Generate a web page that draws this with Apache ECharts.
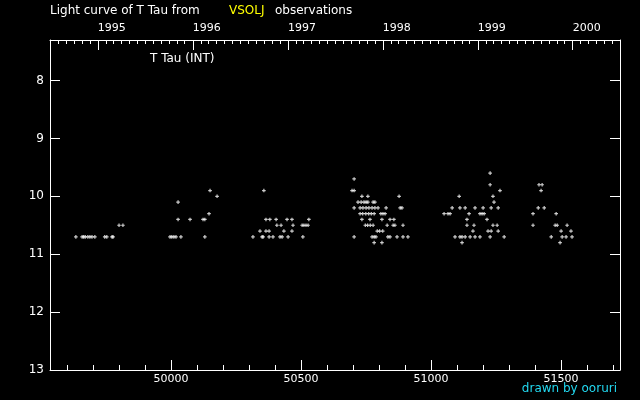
<!DOCTYPE html>
<html>
<head>
<meta charset="utf-8">
<script src="https://cdn.jsdelivr.net/npm/echarts@6/dist/echarts.min.js"></script>
<style>
  html, body { margin: 0; padding: 0; background: #000; }
  #chart { width: 640px; height: 400px; }
</style>
</head>
<body>
<div id="chart"></div>
<script>
// JD - 2400000 and visual magnitude, one array per observing season
const season1 = [
  [49634, 10.7], [49658, 10.7], [49664, 10.7], [49670, 10.7], [49680, 10.7], [49688, 10.7],
  [49696, 10.7], [49707, 10.7], [49745, 10.7], [49753, 10.7], [49773, 10.7], [49777, 10.7],
  [49800, 10.5], [49815, 10.5]
];
const season2 = [
  [49996, 10.7], [50003, 10.7], [50011, 10.7], [50019, 10.7], [50038, 10.7], [50130, 10.7],
  [50027, 10.4], [50073, 10.4], [50123, 10.4], [50130, 10.4], [50146, 10.3], [50027, 10.1],
  [50177, 10.0], [50150, 9.9]
];
const season3 = [
  [50357, 9.9],
  [50365, 10.4], [50380, 10.4], [50404, 10.4], [50446, 10.4], [50465, 10.4], [50530, 10.4],
  [50407, 10.5], [50423, 10.5], [50469, 10.5], [50504, 10.5], [50511, 10.5], [50519, 10.5], [50527, 10.5],
  [50342, 10.6], [50365, 10.6], [50377, 10.6], [50434, 10.6], [50465, 10.6],
  [50315, 10.7], [50350, 10.7], [50354, 10.7], [50377, 10.7], [50392, 10.7], [50419, 10.7],
  [50427, 10.7], [50450, 10.7], [50507, 10.7]
];
const season4 = [
  [50704, 9.7], [50696, 9.9], [50704, 9.9],
  [50734, 10.0], [50757, 10.0], [50877, 10.0],
  [50719, 10.1], [50731, 10.1], [50742, 10.1], [50750, 10.1], [50757, 10.1], [50777, 10.1], [50784, 10.1],
  [50704, 10.2], [50727, 10.2], [50738, 10.2], [50750, 10.2], [50761, 10.2], [50773, 10.2], [50784, 10.2],
  [50796, 10.2], [50827, 10.2], [50881, 10.2], [50888, 10.2],
  [50727, 10.3], [50737, 10.3], [50749, 10.3], [50760, 10.3], [50770, 10.3], [50781, 10.3],
  [50807, 10.3], [50815, 10.3], [50823, 10.3],
  [50734, 10.4], [50765, 10.4], [50811, 10.4], [50842, 10.4], [50857, 10.4],
  [50747, 10.5], [50756, 10.5], [50766, 10.5], [50777, 10.5], [50831, 10.5], [50854, 10.5],
  [50861, 10.5], [50892, 10.5],
  [50793, 10.6], [50802, 10.6], [50814, 10.6],
  [50704, 10.7], [50773, 10.7], [50781, 10.7], [50788, 10.7], [50834, 10.7], [50842, 10.7],
  [50869, 10.7], [50892, 10.7], [50911, 10.7],
  [50781, 10.8], [50811, 10.8]
];
const season5 = [
  [51227, 9.6], [51227, 9.8], [51265, 9.9], [51108, 10.0], [51238, 10.0], [51242, 10.1],
  [51081, 10.2], [51111, 10.2], [51131, 10.2], [51169, 10.2], [51200, 10.2], [51231, 10.2], [51258, 10.2],
  [51050, 10.3], [51065, 10.3], [51073, 10.3], [51146, 10.3], [51188, 10.3], [51196, 10.3], [51204, 10.3],
  [51138, 10.4], [51215, 10.4],
  [51138, 10.5], [51165, 10.5], [51238, 10.5], [51254, 10.5],
  [51161, 10.6], [51219, 10.6], [51231, 10.6], [51258, 10.6],
  [51092, 10.7], [51111, 10.7], [51119, 10.7], [51131, 10.7], [51150, 10.7], [51169, 10.7],
  [51188, 10.7], [51227, 10.7], [51281, 10.7],
  [51119, 10.8]
];
const season6 = [
  [51415, 9.8], [51427, 9.8], [51423, 9.9], [51412, 10.2], [51435, 10.2],
  [51392, 10.3], [51481, 10.3],
  [51392, 10.5], [51477, 10.5], [51485, 10.5], [51523, 10.5],
  [51500, 10.6], [51538, 10.6],
  [51462, 10.7], [51504, 10.7], [51519, 10.7], [51542, 10.7],
  [51496, 10.8]
];

// axis setup
const jdMin = 49534.5;   // 1994 Jul 1
const jdMax = 51726.5;   // 2000 Jul 1
const jdTicks = [50000, 50500, 51000, 51500];
const magTicks = [8, 9, 10, 11, 12, 13];
const yearLabels = [1995, 1996, 1997, 1998, 1999, 2000];

// JD-2400000 of the first day of a month
function jdOf(y, m) {
  return Date.UTC(y, m, 1) / 86400000 + 40587.5;
}

const yearJD = yearLabels.map(y => jdOf(y, 0));
const monthJD = [];
for (let y = 1994; y <= 2000; y++) {
  for (let m = 0; m < 12; m++) {
    const v = jdOf(y, m);
    if (v > jdMin && v < jdMax) monthJD.push(v);
  }
}
const minorJD = [];
for (let v = 49600; v <= 51700; v += 100) minorJD.push(v);

const font = 'DejaVu Sans';
const white = '#ffffff';

const chart = echarts.init(document.getElementById('chart'));

const txt = (text, color, pos) => Object.assign({
  text: text,
  padding: 0,
  textStyle: {color: color, fontSize: 12, fontWeight: 'normal', fontFamily: font}
}, pos);

chart.setOption({
  backgroundColor: '#000000',
  animation: false,
  title: [
    txt('Light curve of T Tau from', white, {left: 50, top: 5}),
    txt('VSOLJ', '#ffff00', {left: 229, top: 5}),
    txt('observations', white, {left: 275, top: 5}),
    txt('T Tau (INT)', white, {left: 150, top: 53}),
    txt('drawn by ooruri', '#22d8f0', {right: 23, top: 383})
  ],
  grid: {left: 50, right: 20, top: 40, bottom: 30},
  xAxis: [
    {
      type: 'value', position: 'bottom', min: jdMin, max: jdMax,
      splitLine: {show: false},
      axisLine: {lineStyle: {color: white, width: 1}},
      axisTick: {inside: true, length: 10, customValues: jdTicks, lineStyle: {color: white}},
      axisLabel: {
        customValues: jdTicks, color: white, fontSize: 11, fontFamily: font, margin: 4,
        formatter: v => String(v)
      }
    },
    {
      type: 'value', position: 'bottom', min: jdMin, max: jdMax,
      splitLine: {show: false},
      axisLine: {show: false},
      axisTick: {inside: true, length: 5, customValues: minorJD, lineStyle: {color: white}},
      axisLabel: {show: false}
    },
    {
      type: 'value', position: 'top', min: jdMin, max: jdMax,
      splitLine: {show: false},
      axisLine: {lineStyle: {color: white, width: 1}},
      axisTick: {inside: true, length: 10, customValues: yearJD, lineStyle: {color: white}},
      axisLabel: {
        customValues: yearJD, color: white, fontSize: 11, fontFamily: font, margin: 6, align: 'left',
        formatter: v => String(yearLabels[yearJD.indexOf(v)])
      }
    },
    {
      type: 'value', position: 'top', min: jdMin, max: jdMax,
      splitLine: {show: false},
      axisLine: {show: false},
      axisTick: {inside: true, length: 4, customValues: monthJD, lineStyle: {color: white}},
      axisLabel: {show: false}
    }
  ],
  yAxis: [
    {
      type: 'value', position: 'left', min: 7.3, max: 13, inverse: true,
      splitLine: {show: false},
      axisLine: {lineStyle: {color: white, width: 1}},
      axisTick: {inside: true, length: 10, customValues: magTicks, lineStyle: {color: white}},
      axisLabel: {customValues: magTicks, color: white, fontSize: 12, fontFamily: font, margin: 6}
    },
    {
      type: 'value', position: 'right', min: 7.3, max: 13, inverse: true,
      splitLine: {show: false},
      axisLine: {lineStyle: {color: white, width: 1}},
      axisTick: {inside: true, length: 10, customValues: magTicks, lineStyle: {color: white}},
      axisLabel: {show: false}
    }
  ],
  series: [{
    type: 'scatter',
    xAxisIndex: 0,
    yAxisIndex: 0,
    symbol: 'path://M1 0H2V3H1Z M0 1H3V2H0Z',
    symbolSize: 3.6,
    itemStyle: {color: white},
    data: [].concat(season1, season2, season3, season4, season5, season6)
  }]
});
</script>
</body>
</html>
